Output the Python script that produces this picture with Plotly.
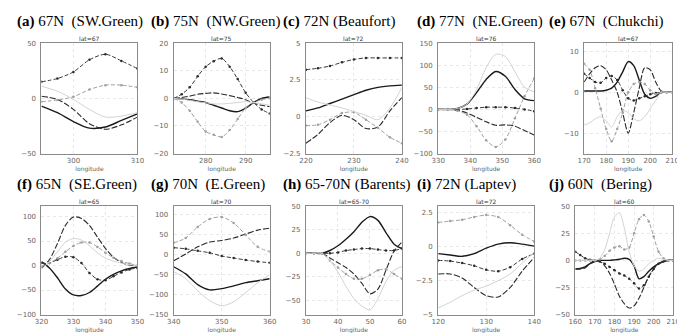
import plotly.graph_objects as go

W, H = 685, 333

# ---------------- data ----------------
A_X = [295, 297.5, 300, 302.5, 305, 307.5, 310]
A_S1 = [-7, -13, -21, -27, -26, -20, -14]
A_S2 = [15, 18, 24, 35, 40, 34, 27]
A_S3 = [2, -1, -10, -23, -28, -24, -17]
A_S4 = [-3, -1.5, 1.5, 8, 12, 12, 10]
A_S5 = [11, 6.5, -1, -10, -17, -16, -13]

B_X = [272, 274, 276, 278, 280, 282, 284, 286, 288, 290, 292, 294, 296]
B_S1 = [0, -0.2, -0.5, -1, -1.5, -2.5, -3.5, -4.5, -4.8, -3.5, -1.5, 0, 0.5]
B_S2 = [0, 1.5, 4, 8, 11.5, 13.5, 14.5, 11.5, 7, 2, -1.5, -4, -5.5]
B_S3 = [0, 0.3, 0.8, 1.5, 1.8, 2, 1.6, 1, 0.3, -0.5, -1.8, -2.5, -3]
B_S4 = [0, -1.5, -4.5, -8.5, -12, -13.2, -14, -11.5, -7.5, -3.5, -1.5, -0.5, 0]
B_S5 = [0, -0.3, -0.7, -1.2, -1.6, -2, -2, -1.8, -1.5, -1.2, -1.5, -2, -2.5]

C_X = [220, 222.5, 225, 227.5, 230, 232.5, 235, 237.5, 240]
C_S1 = [0.4, 0.6, 0.9, 1.2, 1.5, 1.8, 2.0, 2.1, 2.15]
C_S2 = [3.2, 3.3, 3.45, 3.7, 3.9, 4.0, 4.0, 4.0, 4.0]
C_S3 = [-1.8, -1.2, -0.4, 0.1, -0.2, -0.8, -0.7, 0.4, 1.3]
C_S4 = [-0.6, -0.55, -0.2, 0.25, 0.3, -0.2, -0.75, -1.4, -1.8]
C_S5 = [1.3, 1.0, 0.8, 0.6, 0.35, 0.1, -0.2, 0.6, 2.0]

D_X = [330, 333, 336, 339, 342, 345, 348, 351, 354, 357, 360]
D_S1 = [0, 0, 2, 12, 38, 68, 86, 75, 45, 24, 20]
D_S2 = [0, 0, 0, 1, 3, 5, 5, 5, 3, 0, -4]
D_S3 = [0, 0, -2, -8, -18, -28, -36, -35, -38, -48, -58]
D_S4 = [0, 0, -3, -12, -38, -70, -85, -68, -20, 30, 70]
D_S5 = [0, 0, 2, 12, 45, 95, 125, 120, 85, 50, 40]

E_X = [170, 172.5, 175, 177.5, 180, 182.5, 185, 187.5, 190, 192.5, 195, 197.5, 200, 202.5, 205, 207.5, 210]
E_S1 = [0.3, 0.3, 0.3, 0.3, 0.5, 1, 2.5, 5, 7.5, 6.5, 3, -0.5, -1.5, -1, 0, 0, 0]
E_S2 = [4.5, 3.5, 2.5, 2.3, 3.5, 4, 3, 0.5, -1.5, -2, -1.5, -1, -0.5, -0.2, 0, 0, 0]
E_S3 = [2.5, 4.5, 6, 6.5, 5.5, 3, 0, -5, -10, -5, 1, 6, 5.5, 2.5, 0.3, 0, 0]
E_S4 = [7, 5.5, 1, -4, -9, -12, -9, -5, 0, 2, 2.5, 2, 0.5, -0.5, 0, 0, 0]
E_S5 = [-8, -7.5, -6.5, -6, -7, -8.5, -6, -4.5, -5, -6.5, -7, -6, -4, -2, 0, 0, 0]

F_X = [320, 322.5, 325, 327.5, 330, 332.5, 335, 337.5, 340, 342.5, 345, 347.5, 350]
F_S1 = [8, -5, -25, -48, -60, -61, -55, -42, -28, -18, -11, -6, -3]
F_S2 = [5, 5, 12, 18, 17, 5, -15, -28, -30, -22, -14, -8, -5]
F_S3 = [-5, 12, 45, 82, 99, 96, 82, 58, 35, 17, 6, 1, 0]
F_S4 = [-2, 5, 15, 28, 40, 47, 47, 38, 26, 16, 9, 4, 0]
F_S5 = [-8, 8, 28, 48, 55, 52, 40, 26, 15, 9, 5, 2, 0]

G_X = [340, 342.5, 345, 347.5, 350, 352.5, 355, 357.5, 360]
G_S1 = [-30, -48, -75, -88, -85, -78, -70, -65, -60]
G_S2 = [18, 15, 10, 5, -3, -8, -13, -17, -20]
G_S3 = [-15, 2, 20, 32, 36, 42, 52, 62, 67]
G_S4 = [30, 42, 70, 90, 95, 80, 50, 20, 8]
G_S5 = [-42, -60, -90, -115, -128, -118, -95, -70, -50]

H_X = [30, 32.5, 35, 37.5, 40, 42.5, 45, 47.5, 50, 52.5, 55, 57.5, 60]
H_S1 = [0, 0, 0, 3, 8, 15, 23, 33, 39, 35, 22, 10, 5]
H_S2 = [0, 0, 0, 0, 1, 3, 4, 5, 5, 4, 3, 3, 5]
H_S3 = [0, 0, 0, -5, -10, -15, -22, -32, -43, -38, -18, 2, 12]
H_S4 = [0, 0, 0, -8, -15, -22, -27, -27, -23, -18, -17, -22, -27]
H_S5 = [0, 0, 0, -8, -20, -35, -48, -56, -60, -48, -30, -18, -14]

I_X = [120, 122.5, 125, 127.5, 130, 132.5, 135, 137.5, 140]
I_S1 = [-0.5, -0.6, -0.7, -0.5, -0.1, 0.2, 0.3, 0.2, 0.05]
I_S2 = [-1, -1.05, -1.2, -1.4, -1.7, -1.8, -1.5, -0.9, -0.5]
I_S3 = [-2, -2, -2.3, -3, -3.6, -3.7, -3, -1.8, -0.8]
I_S4 = [1.8, 1.9, 2.0, 2.2, 2.35, 2.2, 1.6, 0.9, 0.4]
I_S5 = [-4.5, -4.1, -3.6, -3.2, -2.9, -2.5, -2, -1.2, -0.4]

J_X = [160, 162.5, 165, 167.5, 170, 172.5, 175, 177.5, 180, 182.5, 185, 187.5, 190, 192.5, 195, 197.5, 200, 202.5, 205, 207.5, 210]
J_S1 = [-8, -7.5, -6, -3, -1, 0, 0, 0, 0.5, 1, 2, 1, -5, -17, -15, -10, -6, -3, -1, 0, 0]
J_S2 = [8, 5, 2, 0.5, 0, -1, -3, -6, -9, -12, -14, -17, -21, -26, -23, -15, -8, -3, -1, 0, 0]
J_S3 = [-8, -8, -7, -3, 0, -1, -5, -12, -22, -33, -40, -44, -42, -35, -25, -15, -8, -3, -1, 0, 0]
J_S4 = [0, 0, 0, 0, 0, 1, 4, 9, 12, 13, 10, 12, 25, 38, 42, 36, 22, 8, 2, 0, 0]
J_S5 = [0, 0, 0, 0, 0, 2, 10, 25, 40, 44, 30, 8, -5, -10, -8, -3, 0, 2, 1, 0, 0]

TITLES = ["(a)", "(b)", "(c)", "(d)", "(e)", "(f)", "(g)", "(h)", "(i)", "(j)"]
REGIONS = ["67N  (SW.Green)", "75N  (NW.Green)", "72N (Beaufort)", "77N  (NE.Green)", "67N  (Chukchi)",
           "65N  (SE.Green)", "70N  (E.Green)", "65-70N (Barents)", "72N (Laptev)", "60N  (Bering)"]
LATS = ["lat=67", "lat=75", "lat=72", "lat=76", "lat=67", "lat=65", "lat=70", "lat=65-70", "lat=72", "lat=60"]
XRANGES = [[295, 310], [272, 296], [220, 240], [330, 360], [170, 210],
           [320, 350], [340, 360], [30, 60], [120, 140], [160, 210]]
XTICKS = [[300, 310], [280, 290], [220, 230, 240], [330, 340, 350, 360], [170, 180, 190, 200, 210],
          [320, 330, 340, 350], [340, 350, 360], [30, 40, 50, 60], [120, 130, 140], [160, 170, 180, 190, 200, 210]]
YRANGES = [[-50, 50], [-20, 20], [-2.5, 5], [-100, 150], [-15, 12],
           [-100, 121], [-150, 122], [-65, 50], [-5, 3], [-50, 50]]
YTICKS = [[-50, 0, 50], [-20, -10, 0, 10, 20], [-2.5, 0, 2.5, 5], [-100, -50, 0, 50, 100, 150], [-10, 0, 10],
          [-100, -50, 0, 50, 100], [-150, -100, -50, 0, 50, 100], [-50, -25, 0, 25, 50], [-5, -2.5, 0, 2.5], [-50, -25, 0, 25, 50]]

PANELS = [
    (A_X, [A_S1, A_S2, A_S3, A_S4, A_S5]),
    (B_X, [B_S1, B_S2, B_S3, B_S4, B_S5]),
    (C_X, [C_S1, C_S2, C_S3, C_S4, C_S5]),
    (D_X, [D_S1, D_S2, D_S3, D_S4, D_S5]),
    (E_X, [E_S1, E_S2, E_S3, E_S4, E_S5]),
    (F_X, [F_S1, F_S2, F_S3, F_S4, F_S5]),
    (G_X, [G_S1, G_S2, G_S3, G_S4, G_S5]),
    (H_X, [H_S1, H_S2, H_S3, H_S4, H_S5]),
    (I_X, [I_S1, I_S2, I_S3, I_S4, I_S5]),
    (J_X, [J_S1, J_S2, J_S3, J_S4, J_S5]),
]

# ---------------- styles / layout geometry ----------------
STYLES = [
    dict(line=dict(color="#1a1a1a", width=1.4, dash="solid"), mode="lines"),
    dict(line=dict(color="#3a3a3a", width=1.0, dash="4px,2px"), mode="lines+markers",
         marker=dict(size=2.5, color="#2a2a2a")),
    dict(line=dict(color="#2a2a2a", width=1.1, dash="6px,2px"), mode="lines"),
    dict(line=dict(color="#a0a0a0", width=1.0, dash="4px,2px"), mode="lines+markers",
         marker=dict(size=2.5, color="#a0a0a0")),
    dict(line=dict(color="#d2d2d2", width=1.0, dash="solid"), mode="lines"),
]

BOX_X = [(27, 125), (162, 260), (297, 395), (432, 530), (581, 671),
         (27, 125), (162, 260), (297, 395), (432, 530), (572, 672)]
BOX_Y = [(32, 145)] * 5 + [(199, 310)] * 5
TITLE_X = [0, 137, 272, 408, 543] * 2
TITLE_Y = [10] * 5 + [177] * 5

fig = go.Figure()
annotations = []
layout = {}
for i, (xs, series) in enumerate(PANELS):
    n = "" if i == 0 else str(i + 1)
    for s, ys in enumerate(series):
        st = STYLES[s]
        kw = dict(x=xs, y=ys, mode=st["mode"], line=dict(st["line"], shape="spline", smoothing=0.8),
                  xaxis="x" + n, yaxis="y" + n, showlegend=False, hoverinfo="skip")
        if "marker" in st:
            kw["marker"] = st["marker"]
        fig.add_trace(go.Scatter(**kw))
    x0, x1 = BOX_X[i]
    y0, y1 = BOX_Y[i]
    common = dict(showline=True, mirror=True, linecolor="#8a8a8a", linewidth=1,
                  showgrid=True, gridcolor="#e8e8e8", griddash="dot", gridwidth=1,
                  zeroline=False, ticks="", tickfont=dict(size=7, color="#666", family="DejaVu Sans"))
    layout["xaxis" + n] = dict(common, domain=[x0 / W, x1 / W], range=XRANGES[i], tickvals=XTICKS[i],
                               anchor="y" + n, ticklabelstandoff=0,
                               title=dict(text="longitude", font=dict(size=6, color="#666", family="DejaVu Sans"),
                                          standoff=0))
    layout["yaxis" + n] = dict(common, domain=[1 - y1 / H, 1 - y0 / H], range=YRANGES[i], tickvals=YTICKS[i],
                               anchor="x" + n, ticklabelstandoff=3)
    annotations.append(dict(x=(x0 + x1) / 2 / W, y=1 - (y0 - 5) / H, xref="paper", yref="paper",
                            text=LATS[i], showarrow=False, xanchor="center", yanchor="middle",
                            font=dict(size=6, color="#333", family="DejaVu Sans")))
    annotations.append(dict(x=TITLE_X[i] / W, y=1 - TITLE_Y[i] / H, xref="paper", yref="paper",
                            text="<b>" + TITLES[i] + "</b>\u00a0" + REGIONS[i].replace(" ", "\u00a0"),
                            showarrow=False, xanchor="left", yanchor="middle",
                            font=dict(size=15, color="#000", family="Liberation Serif")))

fig.update_layout(width=W, height=H, margin=dict(l=0, r=0, t=0, b=0),
                  paper_bgcolor="white", plot_bgcolor="white",
                  annotations=annotations, **layout)
fig.write_html("out.html")
